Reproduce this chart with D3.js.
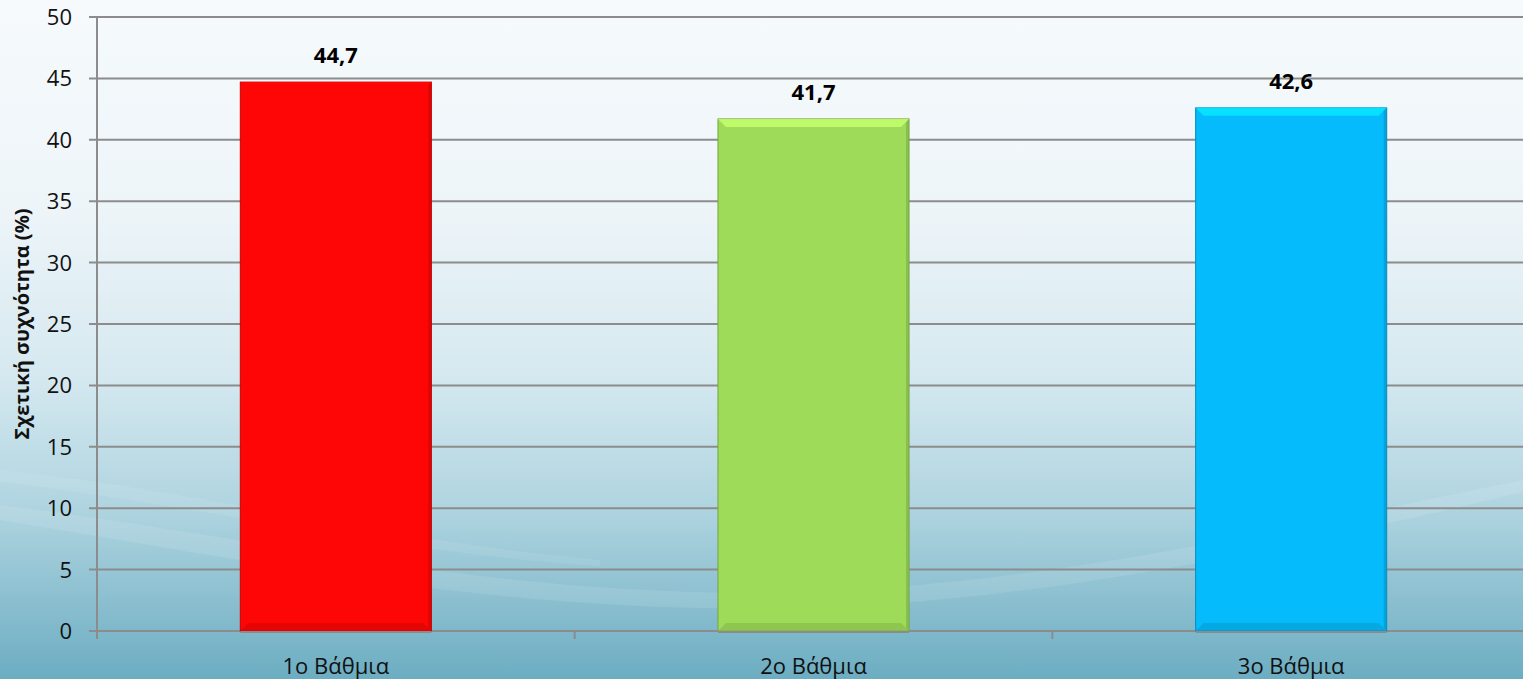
<!DOCTYPE html>
<html>
<head>
<meta charset="utf-8">
<script src="https://cdn.jsdelivr.net/npm/d3@7"></script>
<style>
html,body{margin:0;padding:0;overflow:hidden;}
svg{display:block;}
</style>
</head>
<body>
<svg id="chart" width="1523" height="679"></svg>
<script>
const categories = ["1o Βάθμια", "2o Βάθμια", "3o Βάθμια"];
const values = [44.7, 41.7, 42.6];
const valueLabels = ["44,7", "41,7", "42,6"];
const barColors = ["#ff0606", "#9edb58", "#06bbfb"];
const yTicks = [0, 5, 10, 15, 20, 25, 30, 35, 40, 45, 50];
const yTitle = "Σχετική συχνότητα (%)";

const W = 1523, H = 679;
const svg = d3.select("#chart");
const defs = svg.append("defs");

// background
const bg = defs.append("linearGradient").attr("id","bg").attr("x1",0).attr("y1",0).attr("x2",0).attr("y2",1);
bg.append("stop").attr("offset","0%").attr("stop-color","#f6fafc");
bg.append("stop").attr("offset","30%").attr("stop-color","#eef5f9");
bg.append("stop").attr("offset","55%").attr("stop-color","#d6e9f0");
bg.append("stop").attr("offset","75%").attr("stop-color","#afd4e0");
bg.append("stop").attr("offset","100%").attr("stop-color","#6cadc2");
svg.append("rect").attr("width",W).attr("height",H).attr("fill","url(#bg)");

// subtle swooshes
svg.append("path")
  .attr("d","M0,505 C250,535 500,600 800,592 C1050,585 1300,525 1523,480 L1523,492 C1300,545 1050,602 800,608 C500,615 250,560 0,520 Z")
  .attr("fill","#ffffff").attr("opacity",0.1);
svg.append("path")
  .attr("d","M0,470 C200,490 380,540 600,560 L600,566 C380,552 200,505 0,482 Z")
  .attr("fill","#ffffff").attr("opacity",0.08);

const margin = {left:97, top:17, right:-7, bottom:48};
const x = d3.scaleBand().domain(categories).range([margin.left, W - margin.right]).paddingInner(0.6).paddingOuter(0.3);
const xb = d3.scaleBand().domain(categories).range([margin.left, W - margin.right]).padding(0);
const y = d3.scaleLinear().domain([0,50]).range([631, 17]);

const fontFam = "'Open Sans', 'Noto Sans', sans-serif";
const grid = "#8c8c8c";

// gridlines
svg.append("g").selectAll("line").data(yTicks).join("line")
  .attr("x1", margin.left - 8).attr("x2", W)
  .attr("y1", d => y(d)).attr("y2", d => y(d))
  .attr("stroke", grid).attr("stroke-width", 2);

// y axis line
svg.append("line").attr("x1", margin.left).attr("x2", margin.left)
  .attr("y1", y(50)).attr("y2", y(0) + 8).attr("stroke", grid).attr("stroke-width", 2);

// category separator ticks
svg.append("g").selectAll("line").data(categories.slice(1)).join("line")
  .attr("x1", d => xb(d)).attr("x2", d => xb(d))
  .attr("y1", y(0)).attr("y2", y(0) + 8).attr("stroke", grid).attr("stroke-width", 2);

// y tick labels
svg.append("g").selectAll("text").data(yTicks).join("text")
  .attr("x", 72).attr("y", d => y(d) + 8)
  .attr("text-anchor","end")
  .attr("font-family", fontFam).attr("font-size", 22).attr("fill","#111")
  .text(d => d);

// bars
const bars = svg.append("g").selectAll("g").data(values).join("g");
bars.append("rect")
  .attr("x", (d,i) => x(categories[i])).attr("width", x.bandwidth())
  .attr("y", d => y(d)).attr("height", d => y(0) - y(d))
  .attr("fill", (d,i) => barColors[i])
  .attr("stroke", (d,i) => d3.color(barColors[i]).darker(0.8))
  .attr("stroke-width", 1);
// bevel: top highlight
bars.append("path")
  .attr("d", (d,i) => {
    const x0 = x(categories[i]), x1 = x0 + x.bandwidth(), t = y(d), b = 8;
    return `M${x0},${t} L${x1},${t} L${x1-b},${t+b} L${x0+b},${t+b} Z`;
  })
  .attr("fill", (d,i) => d3.color(barColors[i]).brighter(0.6)).attr("opacity", 0.85);
// bevel: bottom shade
bars.append("path")
  .attr("d", (d,i) => {
    const x0 = x(categories[i]), x1 = x0 + x.bandwidth(), b0 = y(0), b = 8;
    return `M${x0},${b0} L${x1},${b0} L${x1-b},${b0-b} L${x0+b},${b0-b} Z`;
  })
  .attr("fill", (d,i) => d3.color(barColors[i]).darker(0.5)).attr("opacity", 0.6);
// bevel: right edge shade
bars.append("path")
  .attr("d", (d,i) => {
    const x0 = x(categories[i]), x1 = x0 + x.bandwidth(), t = y(d), b0 = y(0), b = 3;
    return `M${x1},${t} L${x1},${b0} L${x1-b},${b0-b} L${x1-b},${t+b} Z`;
  })
  .attr("fill", (d,i) => d3.color(barColors[i]).darker(0.7)).attr("opacity", 0.6);
// bottom line
bars.append("line")
  .attr("x1", (d,i) => x(categories[i])).attr("x2", (d,i) => x(categories[i]) + x.bandwidth())
  .attr("y1", y(0) + 1).attr("y2", y(0) + 1)
  .attr("stroke", grid).attr("stroke-width", 2);

// value labels
svg.append("g").selectAll("text").data(values).join("text")
  .attr("x", (d,i) => x(categories[i]) + x.bandwidth()/2)
  .attr("y", d => y(d) - 19)
  .attr("text-anchor","middle")
  .attr("font-family", fontFam).attr("font-weight","bold").attr("font-size", 22).attr("fill","#000")
  .text((d,i) => valueLabels[i]);

// category labels
svg.append("g").selectAll("text").data(categories).join("text")
  .attr("x", d => x(d) + x.bandwidth()/2)
  .attr("y", 674)
  .attr("text-anchor","middle")
  .attr("font-family", fontFam).attr("font-size", 22).attr("fill","#111")
  .text(d => d);

// y title
svg.append("text")
  .attr("transform", `translate(29, ${y(25)}) rotate(-90)`)
  .attr("text-anchor","middle")
  .attr("font-family", fontFam).attr("font-weight","bold").attr("font-size", 20).attr("fill","#111")
  .text(yTitle);
</script>
</body>
</html>
